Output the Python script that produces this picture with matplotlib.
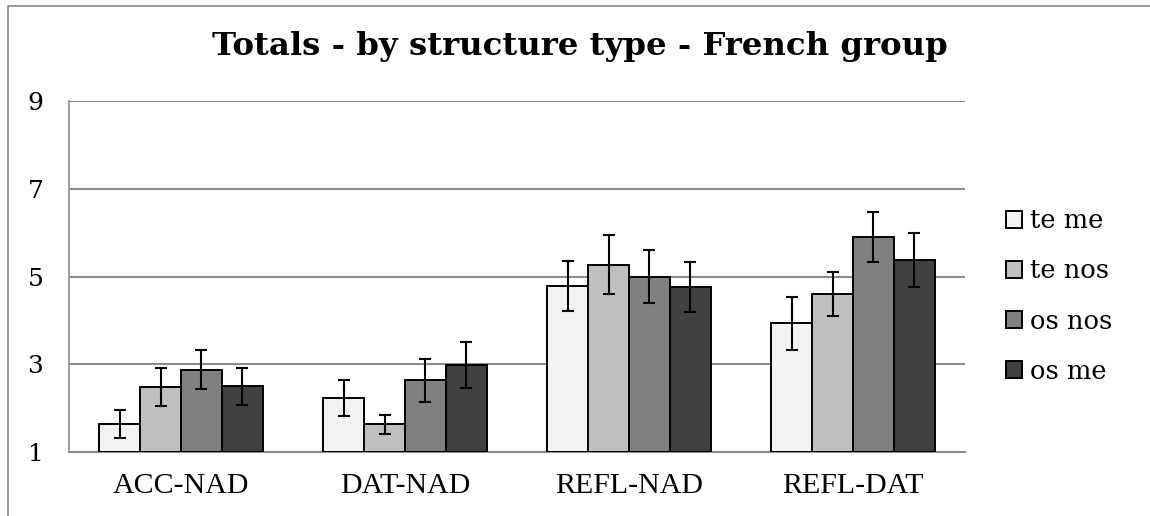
import numpy as np
import matplotlib
matplotlib.use("Agg")
import matplotlib.pyplot as plt
from matplotlib.patches import Rectangle

categories = ["ACC-NAD", "DAT-NAD", "REFL-NAD", "REFL-DAT"]
series = ["te me", "te nos", "os nos", "os me"]
te_me = [1.63, 2.24, 4.79, 3.93]
te_nos = [2.48, 1.63, 5.27, 4.60]
os_nos = [2.88, 2.64, 5.00, 5.90]
os_me = [2.50, 2.98, 4.76, 5.38]
te_me_err = [0.32, 0.41, 0.57, 0.60]
te_nos_err = [0.43, 0.22, 0.67, 0.50]
os_nos_err = [0.44, 0.49, 0.60, 0.58]
os_me_err = [0.42, 0.53, 0.57, 0.62]
colors = ["#F2F2F2", "#BFBFBF", "#808080", "#404040"]

values = [te_me, te_nos, os_nos, os_me]
errors = [te_me_err, te_nos_err, os_nos_err, os_me_err]

fig = plt.figure(figsize=(11.5, 5.16), dpi=100)
# chart area border
fig.patches.append(Rectangle((8 / 1150, -0.1), 1.2, 1 - 6 / 516 + 0.1,
                             transform=fig.transFigure, fill=False,
                             edgecolor="#8c8c8c", linewidth=1.2))

ax = fig.add_axes([69 / 1150, 64 / 516, 896 / 1150, 351 / 516])

x = np.arange(len(categories))
width = 0.182
for i, (vals, errs) in enumerate(zip(values, errors)):
    pos = x + (i - 1.5) * width
    ax.bar(pos, [v - 1 for v in vals], width, bottom=1, color=colors[i],
           edgecolor="black", linewidth=1.4, label=series[i], zorder=3)
    ax.errorbar(pos, vals, yerr=errs, fmt="none", ecolor="black",
                elinewidth=1.5, capsize=4.5, capthick=1.5, zorder=4)

ax.set_xlim(-0.5, 3.5)
ax.set_ylim(1, 9)
ax.set_yticks([1, 3, 5, 7, 9])
ax.yaxis.grid(True, color="#8c8c8c", linewidth=1.5, zorder=0)
ax.set_axisbelow(True)
for s in ["top", "right"]:
    ax.spines[s].set_visible(False)
ax.spines["left"].set_color("#8c8c8c")
ax.spines["left"].set_linewidth(1.2)
ax.spines["bottom"].set_color("#8c8c8c")
ax.spines["bottom"].set_linewidth(1.5)
ax.tick_params(axis="y", length=0, pad=18.5, labelsize=18)
ax.tick_params(axis="x", length=0, pad=15, labelsize=21.5)
ax.set_xticks(x)
ax.set_xticklabels(categories)
for lab in ax.get_xticklabels():
    lab.set_family("Liberation Serif")
for lab in ax.get_yticklabels():
    lab.set_family("DejaVu Serif")

fig.text(580 / 1150, 1 - 47 / 516, "Totals - by structure type - French group",
         ha="center", va="center", fontsize=23.3, fontweight="bold",
         family="DejaVu Serif")

ax.legend(loc="center left", bbox_to_anchor=(1006 / 1150, 1 - 296 / 516),
          bbox_transform=fig.transFigure, frameon=False,
          prop={"family": "DejaVu Serif", "size": 18.5},
          handlelength=0.63, handleheight=0.63, handletextpad=0.3,
          labelspacing=0.98, borderaxespad=0, borderpad=0)

fig.savefig("out.png", dpi=100)
